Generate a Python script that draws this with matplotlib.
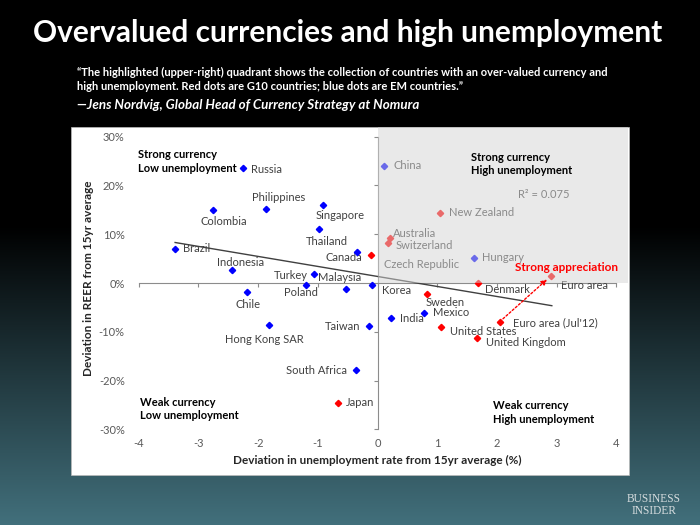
import numpy as np
import matplotlib
matplotlib.use("Agg")
import matplotlib.pyplot as plt
from matplotlib.patches import Rectangle

# ---------------- data ----------------
countries = ["Russia", "Colombia", "Philippines", "Singapore", "Thailand", "Brazil",
             "Indonesia", "Canada", "Czech Republic", "Turkey", "Malaysia", "Poland",
             "Korea", "Chile", "Hong Kong SAR", "Taiwan", "South Africa", "Japan",
             "China", "New Zealand", "Australia", "Switzerland", "Hungary", "Euro area",
             "Denmark", "Sweden", "Mexico", "India", "United States", "Euro area (Jul'12)",
             "United Kingdom"]
unemp_dev = [-2.26, -2.76, -1.86, -0.91, -0.98, -3.39,
             -2.43, -0.11, -0.35, -1.07, -0.53, -1.19,
             -0.09, -2.19, -1.82, -0.15, -0.36, -0.67,
             0.11, 1.05, 0.21, 0.17, 1.62, 2.91,
             1.69, 0.83, 0.78, 0.22, 1.06, 2.05,
             1.67]
reer_dev = [23.5, 15.0, 15.2, 16.0, 11.1, 7.0,
            2.7, 5.7, 6.3, 1.8, -1.2, -0.5,
            -0.5, -1.9, -8.7, -8.8, -17.8, -24.5,
            24.0, 14.4, 9.3, 8.1, 5.2, 1.5,
            0.1, -2.3, -6.1, -7.1, -9.1, -7.9,
            -11.2]
group = ["EM", "EM", "EM", "EM", "EM", "EM",
         "EM", "G10", "EM", "EM", "EM", "EM",
         "EM", "EM", "EM", "EM", "EM", "G10",
         "EM", "G10", "G10", "G10", "EM", "G10",
         "G10", "G10", "EM", "EM", "G10", "G10",
         "G10"]
trend_x = [-3.39, 2.92]
trend_y = [8.3, -4.65]
r_squared = 0.075
x_ticks = [-4, -3, -2, -1, 0, 1, 2, 3, 4]
y_ticks = [-30, -20, -10, 0, 10, 20, 30]

# label placement (offset in pixels from marker, horizontal alignment)
label_pos = {
    "Russia": (8, -1, "left"), "Colombia": (11, -12, "center"),
    "Philippines": (12, 11, "center"), "Singapore": (17, -11, "center"),
    "Thailand": (8, -13, "center"), "Brazil": (8, 0, "left"),
    "Indonesia": (8, 7, "center"), "Canada": (-9, -2, "right"),
    "Czech Republic": (27, -12, "left"), "Turkey": (-6, -1, "right"),
    "Malaysia": (-6, 11, "center"), "Poland": (-6, -7, "center"),
    "Korea": (10, -5, "left"), "Chile": (1, -12, "center"),
    "Hong Kong SAR": (-5, -14, "center"), "Taiwan": (-8, -1, "right"),
    "South Africa": (-9, -1, "right"), "Japan": (8, 0, "left"),
    "China": (9, 0, "left"), "New Zealand": (9, 0, "left"),
    "Australia": (3, 4, "left"), "Switzerland": (8, -2, "left"),
    "Hungary": (8, 0, "left"), "Euro area": (10, -10, "left"),
    "Denmark": (7, -7, "left"), "Sweden": (-1, -8, "left"),
    "Mexico": (9, 0, "left"), "India": (9, -1, "left"),
    "United States": (9, -4, "left"), "Euro area (Jul'12)": (13, -1, "left"),
    "United Kingdom": (9, -5, "left"),
}

FONT = "Lato"
plt.rcParams["font.family"] = [FONT, "DejaVu Sans"]

W, H = 700, 525
fig = plt.figure(figsize=(7, 5.25), dpi=100)

# ---------------- background ----------------
bg = fig.add_axes([0, 0, 1, 1], zorder=-10)
bg.set_xlim(0, W)
bg.set_ylim(H, 0)
bg.axis("off")
rows = np.arange(H)
t = np.clip((rows - 225) / (H - 225), 0, 1)
top = np.array([0, 0, 0])
bot = np.array([66, 112, 124]) / 255
grad = top[None, :] * (1 - t[:, None]) + bot[None, :] * t[:, None]
img = np.repeat(grad[:, None, :], W, axis=1)
bg.imshow(img, extent=[0, W, H, 0], aspect="auto", interpolation="bilinear")
bg.add_patch(Rectangle((71, 127), 558, 348, facecolor="white", edgecolor="#bbbbbb", lw=0.5))

fig.text(348 / W, 1 - 33 / H, "Overvalued currencies and high unemployment", color="white",
         fontsize=21.5, fontweight="bold", ha="center", va="center")
fig.text(77 / W, 1 - 72 / H,
         "\u201cThe highlighted (upper-right) quadrant shows the collection of countries with an over-valued currency and",
         color="white", fontsize=8.0, fontweight="bold", ha="left", va="center")
fig.text(77 / W, 1 - 87 / H,
         "high unemployment. Red dots are G10 countries; blue dots are EM countries.\u201d",
         color="white", fontsize=8.0, fontweight="bold", ha="left", va="center")
fig.text(77 / W, 1 - 105 / H,
         "\u2014Jens Nordvig, Global Head of Currency Strategy at Nomura",
         color="white", fontsize=9.6, fontweight="bold", fontstyle="italic", ha="left", va="center")
fig.text(654 / W, 1 - 499 / H, "BUSINESS", color="#d5dcde", fontsize=8.3,
         family="Liberation Serif", ha="center", va="center")
fig.text(654 / W, 1 - 511 / H, "INSIDER", color="#d5dcde", fontsize=8.3,
         family="Liberation Serif", ha="center", va="center")

# ---------------- chart ----------------
x0, sx = 377.5, 59.7
y0, sy = 283.0, 4.88
xlim = (-4.2, 4.2)
ylim = (-31, 32)
left = (x0 + xlim[0] * sx) / W
right = (x0 + xlim[1] * sx) / W
bottom_px = y0 - ylim[0] * sy
top_px = y0 - ylim[1] * sy
ax = fig.add_axes([left, 1 - bottom_px / H, right - left, (bottom_px - top_px) / H])
ax.set_xlim(*xlim)
ax.set_ylim(*ylim)
ax.patch.set_alpha(0)
for s in ax.spines.values():
    s.set_visible(False)

ax.set_xticks(x_ticks)
ax.set_xticklabels([str(v) for v in x_ticks])
ax.set_yticks(y_ticks)
ax.set_yticklabels([f"{v}%" for v in y_ticks])
ax.tick_params(length=0, labelsize=8, labelcolor="#595959", pad=3)
ax.tick_params(axis="y", pad=1.5)

axis_col = "#8c8c8c"
ax.plot([x_ticks[0], x_ticks[-1]], [0, 0], color=axis_col, lw=0.8, zorder=2)
ax.plot(x_ticks, [0] * len(x_ticks), ls="none", marker=3, ms=3, mew=0.8, color=axis_col, zorder=2)
ax.plot([0, 0], [y_ticks[0], y_ticks[-1]], color=axis_col, lw=0.8, zorder=2)
ax.plot([0] * len(y_ticks), y_ticks, ls="none", marker=0, ms=3, mew=0.8, color=axis_col, zorder=2)

ax.plot(trend_x, trend_y, color="#404040", lw=1.0, zorder=3)

colors = {"G10": "#ff0000", "EM": "#0000ff"}
label_col = "#404040"
for name, xv, yv, g in zip(countries, unemp_dev, reer_dev, group):
    ax.plot(xv, yv, ls="none", marker="D", ms=3.2, color=colors[g], zorder=4)
    dx, dy, ha = label_pos[name]
    ax.annotate(name, (xv, yv), xytext=(dx, dy), textcoords="offset pixels",
                ha=ha, va="center", fontsize=8, color=label_col, zorder=4)

# shaded upper-right quadrant (semi-transparent overlay)
ax.add_patch(Rectangle((0, 0), xlim[1], ylim[1], facecolor="#d4d4d4", alpha=0.5,
                       edgecolor="none", zorder=5, clip_on=False))

# arrow from Euro area (Jul'12) to Euro area now
i_old = countries.index("Euro area (Jul'12)")
i_new = countries.index("Euro area")
ax.annotate("", xy=(unemp_dev[i_new], reer_dev[i_new]),
            xytext=(unemp_dev[i_old], reer_dev[i_old]),
            arrowprops=dict(arrowstyle="-|>", color="#ff0000", lw=1.0, ls=(0, (1.5, 1.5)),
                            shrinkA=3, shrinkB=4, mutation_scale=8), zorder=6)
ax.text(2.30, 3.1, "Strong appreciation", color="#ff0000", fontsize=8.5,
        fontweight="bold", ha="left", va="center", zorder=6)
ax.text(2.36, 18.2, f"R\u00b2 = {r_squared}", color="#8a8a8a", fontsize=8,
        ha="left", va="center", zorder=6)

qfs = 8
for (qx, qy1, qy2, l1, l2) in [(-4.02, 26.4, 23.5, "Strong currency", "Low unemployment"),
                                (1.57, 25.8, 23.0, "Strong currency", "High unemployment"),
                                (-3.97, -24.4, -27.2, "Weak currency", "Low unemployment"),
                                (1.94, -25.1, -27.9, "Weak currency", "High unemployment")]:
    ax.text(qx, qy1, l1, fontsize=qfs, fontweight="bold", color="black", ha="left", va="center", zorder=6)
    ax.text(qx, qy2, l2, fontsize=qfs, fontweight="bold", color="black", ha="left", va="center", zorder=6)

fig.text(377 / W, 1 - 460 / H, "Deviation in unemployment rate from 15yr average (%)",
         fontsize=8.5, fontweight="bold", color="#262626", ha="center", va="center")
fig.text(89 / W, 1 - 278 / H, "Deviation in REER from 15yr average",
         fontsize=8.5, fontweight="bold", color="#262626", ha="center", va="center", rotation=90)

fig.savefig("out.png", dpi=100)
